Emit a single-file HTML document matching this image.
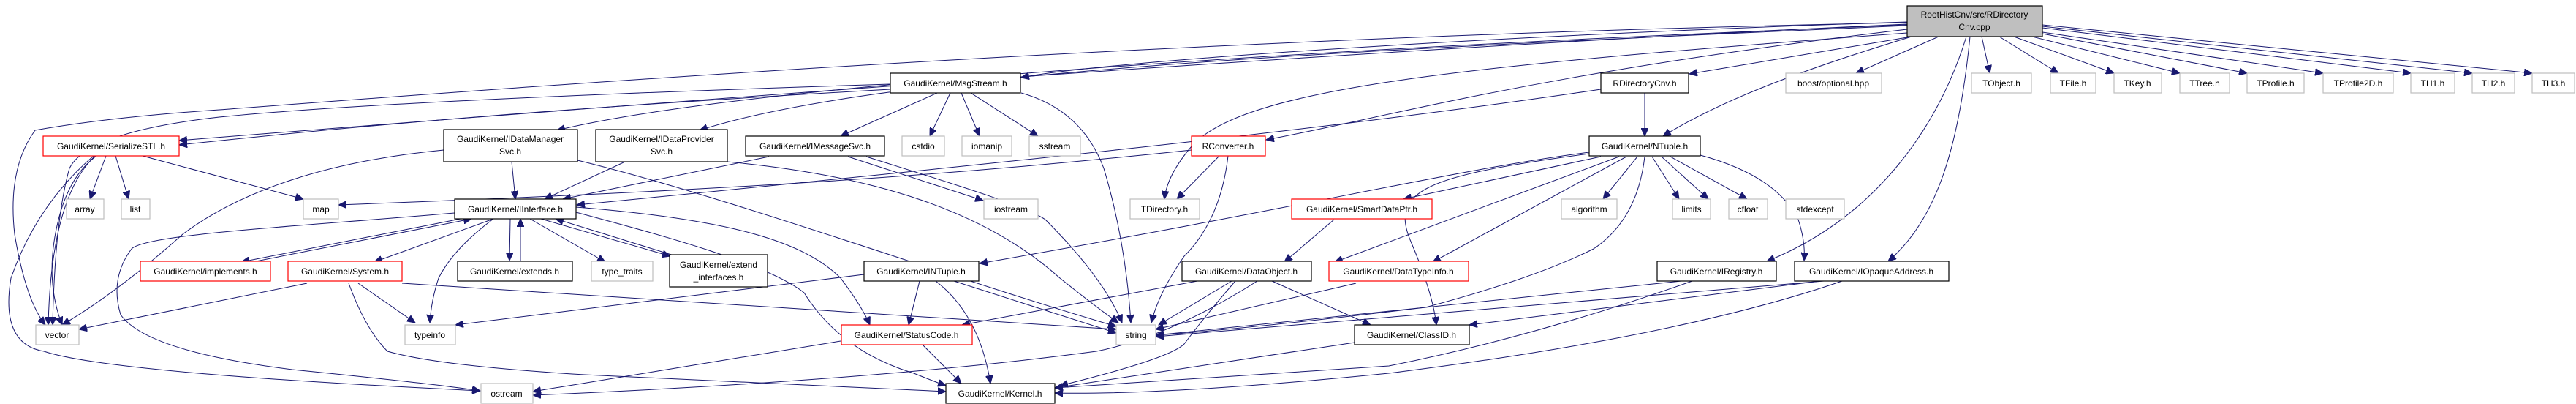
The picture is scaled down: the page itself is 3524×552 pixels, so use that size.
<!DOCTYPE html>
<html><head><meta charset="utf-8"><style>
html,body{margin:0;padding:0;background:#fff;}
svg{display:block;}
text{font-family:"Liberation Sans",Arial,sans-serif;font-size:12px;fill:#000;}
.n{fill:#fff;stroke:#000;stroke-width:1.2;}
.r{fill:#fff;stroke:#f00;stroke-width:1.2;}
.g{fill:#fff;stroke:#bfbfbf;stroke-width:1.2;}
.e{fill:none;stroke:#191970;stroke-width:1;marker-end:url(#a);}
</style></head><body>
<svg width="3524" height="552" viewBox="0 0 3524 552" xmlns="http://www.w3.org/2000/svg">
<defs><marker id="a" markerUnits="userSpaceOnUse" markerWidth="12" markerHeight="10" refX="11" refY="5" orient="auto"><path d="M0,0 L11,5 L0,10 z" fill="#191970" stroke="#191970"/></marker></defs>

<g>
<path class="e" d="M2609,30 C2000,50 1500,85 1397,106"/>
<path class="e" d="M2609,33 C1800,70 900,140 245,192"/>
<path class="e" d="M2609,31 C1600,50 700,120 300,150 Q150,160 48,178 Q10,230 20,320 Q35,410 62,444"/>
<path class="e" d="M2609,34 C1700,70 1000,120 762,178"/>
<path class="e" d="M2609,35 C1800,70 1200,100 957,178"/>
<path class="e" d="M2609,45 C2000,90 1700,120 1630,200 Q1596,240 1593,272"/>
<path class="e" d="M2609,40 C2100,100 1900,160 1732,191"/>
<path class="e" d="M2615,50 L2311,101"/>
<path class="e" d="M2615,50 C2450,100 2350,140 2275,186"/>
<path class="e" d="M2652,50 L2539,100"/>
<path class="e" d="M2690,50 C2650,180 2560,300 2417,357"/>
<path class="e" d="M2695,50 C2680,200 2650,300 2583,357"/>
<path class="e" d="M2711,50 L2722,100"/>
<path class="e" d="M2735,50 L2816,100"/>
<path class="e" d="M2755,50 L2892,100"/>
<path class="e" d="M2780,50 L2982,100"/>
<path class="e" d="M2794,46 L3074,100"/>
<path class="e" d="M2794,44 L3178,100"/>
<path class="e" d="M2794,38 L3298,100"/>
<path class="e" d="M2794,36 L3382,100"/>
<path class="e" d="M2794,34 L3464,100"/>
</g>
<g>
<path class="e" d="M1218,115 C900,125 500,140 300,160 Q120,180 95,230 Q75,300 72,444"/>
<path class="e" d="M1218,122 C900,140 600,160 245,198"/>
<path class="e" d="M1282,127 L1150,186"/>
<path class="e" d="M1300,127 L1272,186"/>
<path class="e" d="M1315,127 L1340,186"/>
<path class="e" d="M1328,127 L1420,186"/>
<path class="e" d="M1397,127 Q1480,150 1510,230 Q1540,330 1547,441"/>
</g>
<g>
<path class="e" d="M607,205 C450,220 330,260 250,320 Q160,400 85,444"/>
<path class="e" d="M700,221 L705,272"/>
<path class="e" d="M790,219 C1000,270 1300,380 1527,446"/>
<path class="e" d="M855,221 L745,272"/>
<path class="e" d="M995,221 C1200,240 1350,290 1450,380 Q1500,420 1530,441"/>
<path class="e" d="M1052,214 L770,272"/>
<path class="e" d="M1160,214 L1345,274"/>
<path class="e" d="M1185,214 C1300,250 1400,280 1430,300 Q1510,380 1535,441"/>
</g>
<g>
<path class="e" d="M145,213 L123,272"/>
<path class="e" d="M158,213 L176,272"/>
<path class="e" d="M195,213 L415,272"/>
<path class="e" d="M130,213 Q70,270 66,444"/>
<path class="e" d="M132,213 Q95,240 80,300 Q60,380 85,444"/>
<path class="e" d="M128,213 Q50,280 15,380 Q0,470 60,480 Q150,510 657,534"/>
</g>
<g>
<path class="e" d="M622,291 C400,310 200,320 180,340 Q150,380 165,430 Q200,480 400,505 Q600,525 657,534"/>
<path class="e" d="M630,299 L330,358"/>
<path class="e" d="M345,358 L645,299"/>
<path class="e" d="M675,299 L512,358"/>
<path class="e" d="M675,299 Q620,340 600,380 Q590,410 588,441"/>
<path class="e" d="M698,299 L697,356"/>
<path class="e" d="M712,356 L712,299"/>
<path class="e" d="M725,299 L828,358"/>
<path class="e" d="M740,299 L917,350"/>
<path class="e" d="M925,350 L760,299"/>
<path class="e" d="M788,283 C1000,300 1100,330 1150,380 Q1180,420 1190,444"/>
<path class="e" d="M788,290 C900,320 1050,360 1100,400 Q1150,480 1250,510 Q1280,522 1294,527"/>
</g>
<g>
<path class="e" d="M420,387 L108,450"/>
<path class="e" d="M490,387 L568,441"/>
<path class="e" d="M477,387 Q500,450 530,480 Q600,500 800,512 Q1100,525 1294,535"/>
<path class="e" d="M550,387 L1527,450"/>
</g>
<g>
<path class="e" d="M1182,375 L623,444"/>
<path class="e" d="M1258,384 L1243,444"/>
<path class="e" d="M1280,384 Q1340,430 1355,524"/>
<path class="e" d="M1305,384 L1527,455"/>
<path class="e" d="M1150,466 L729,535"/>
<path class="e" d="M1262,471 L1315,524"/>
<path class="e" d="M1638,384 L1316,444"/>
<path class="e" d="M1685,384 L1585,444"/>
<path class="e" d="M1690,384 Q1650,430 1620,470 Q1600,490 1450,527"/>
<path class="e" d="M1740,384 L1875,444"/>
<path class="e" d="M1720,384 Q1600,460 1500,480 Q1200,520 729,540"/>
</g>
<g>
<path class="e" d="M2174,208 C2000,230 1800,280 1340,360"/>
<path class="e" d="M2190,214 L1920,272"/>
<path class="e" d="M2215,214 L1826,358"/>
<path class="e" d="M2225,214 L1960,358"/>
<path class="e" d="M2240,214 L2193,272"/>
<path class="e" d="M2260,214 L2297,272"/>
<path class="e" d="M2273,214 L2337,272"/>
<path class="e" d="M2285,214 L2390,272"/>
<path class="e" d="M2326,212 Q2430,240 2460,300 Q2470,330 2468,356"/>
<path class="e" d="M2250,214 Q2240,300 2180,340 Q2100,380 1950,420 Q1700,450 1581,458"/>
<path class="e" d="M2174,210 C1950,240 1900,260 1930,330 Q1960,400 1965,444"/>
<path class="e" d="M1825,300 L1757,358"/>
<path class="e" d="M1855,387 L1581,450"/>
</g>
<g>
<path class="e" d="M1630,205 C1300,240 1000,260 463,280"/>
<path class="e" d="M1668,213 L1610,272"/>
<path class="e" d="M1680,213 Q1670,300 1620,350 Q1585,400 1575,441"/>
<path class="e" d="M2250,127 L2250,186"/>
<path class="e" d="M2190,122 C1800,180 1300,230 789,280"/>
</g>
<g>
<path class="e" d="M2300,384 L1581,458"/>
<path class="e" d="M2315,384 Q2100,460 1900,500 Q1600,520 1443,530"/>
<path class="e" d="M2495,384 L1581,460"/>
<path class="e" d="M2490,384 L2010,444"/>
<path class="e" d="M2520,384 Q2300,460 1900,510 Q1600,540 1443,537"/>
<path class="e" d="M1853,468 L1443,530"/>
</g>

<rect x="2609" y="8" width="185" height="42" fill="#bfbfbf" stroke="#000" stroke-width="1.2"/>
<text x="2701" y="24" text-anchor="middle">RootHistCnv/src/RDirectory</text>
<text x="2701" y="41" text-anchor="middle">Cnv.cpp</text>

<rect class="n" x="1218" y="100" width="178" height="27"/><text x="1307" y="118" text-anchor="middle">GaudiKernel/MsgStream.h</text>
<rect class="n" x="2190" y="100" width="120" height="27"/><text x="2250" y="118" text-anchor="middle">RDirectoryCnv.h</text>
<rect class="g" x="2443" y="100" width="131" height="27"/><text x="2508" y="118" text-anchor="middle">boost/optional.hpp</text>
<rect class="g" x="2697" y="100" width="82" height="27"/><text x="2738" y="118" text-anchor="middle">TObject.h</text>
<rect class="g" x="2805" y="100" width="62" height="27"/><text x="2836" y="118" text-anchor="middle">TFile.h</text>
<rect class="g" x="2892" y="100" width="65" height="27"/><text x="2924" y="118" text-anchor="middle">TKey.h</text>
<rect class="g" x="2982" y="100" width="68" height="27"/><text x="3016" y="118" text-anchor="middle">TTree.h</text>
<rect class="g" x="3074" y="100" width="78" height="27"/><text x="3113" y="118" text-anchor="middle">TProfile.h</text>
<rect class="g" x="3178" y="100" width="96" height="27"/><text x="3226" y="118" text-anchor="middle">TProfile2D.h</text>
<rect class="g" x="3298" y="100" width="60" height="27"/><text x="3328" y="118" text-anchor="middle">TH1.h</text>
<rect class="g" x="3382" y="100" width="58" height="27"/><text x="3411" y="118" text-anchor="middle">TH2.h</text>
<rect class="g" x="3464" y="100" width="58" height="27"/><text x="3493" y="118" text-anchor="middle">TH3.h</text>

<rect class="r" x="59" y="186" width="186" height="27"/><text x="152" y="204" text-anchor="middle">GaudiKernel/SerializeSTL.h</text>
<rect class="n" x="607" y="177" width="183" height="44"/><text x="698" y="194" text-anchor="middle">GaudiKernel/IDataManager</text><text x="698" y="211" text-anchor="middle">Svc.h</text>
<rect class="n" x="815" y="177" width="180" height="44"/><text x="905" y="194" text-anchor="middle">GaudiKernel/IDataProvider</text><text x="905" y="211" text-anchor="middle">Svc.h</text>
<rect class="n" x="1020" y="186" width="190" height="27"/><text x="1115" y="204" text-anchor="middle">GaudiKernel/IMessageSvc.h</text>
<rect class="g" x="1234" y="186" width="58" height="27"/><text x="1263" y="204" text-anchor="middle">cstdio</text>
<rect class="g" x="1316" y="186" width="68" height="27"/><text x="1350" y="204" text-anchor="middle">iomanip</text>
<rect class="g" x="1408" y="186" width="70" height="27"/><text x="1443" y="204" text-anchor="middle">sstream</text>
<rect class="r" x="1630" y="186" width="101" height="27"/><text x="1680" y="204" text-anchor="middle">RConverter.h</text>
<rect class="n" x="2174" y="186" width="152" height="27"/><text x="2250" y="204" text-anchor="middle">GaudiKernel/NTuple.h</text>

<rect class="g" x="91" y="272" width="51" height="27"/><text x="116" y="290" text-anchor="middle">array</text>
<rect class="g" x="166" y="272" width="39" height="27"/><text x="185" y="290" text-anchor="middle">list</text>
<rect class="g" x="415" y="272" width="48" height="27"/><text x="439" y="290" text-anchor="middle">map</text>
<rect class="n" x="622" y="272" width="166" height="27"/><text x="705" y="290" text-anchor="middle">GaudiKernel/IInterface.h</text>
<rect class="g" x="1346" y="272" width="74" height="27"/><text x="1383" y="290" text-anchor="middle">iostream</text>
<rect class="g" x="1546" y="272" width="95" height="27"/><text x="1593" y="290" text-anchor="middle">TDirectory.h</text>
<rect class="r" x="1767" y="272" width="192" height="27"/><text x="1863" y="290" text-anchor="middle">GaudiKernel/SmartDataPtr.h</text>
<rect class="g" x="2136" y="272" width="76" height="27"/><text x="2174" y="290" text-anchor="middle">algorithm</text>
<rect class="g" x="2288" y="272" width="52" height="27"/><text x="2314" y="290" text-anchor="middle">limits</text>
<rect class="g" x="2365" y="272" width="53" height="27"/><text x="2391" y="290" text-anchor="middle">cfloat</text>
<rect class="g" x="2443" y="272" width="80" height="27"/><text x="2483" y="290" text-anchor="middle">stdexcept</text>

<rect class="r" x="192" y="357" width="178" height="27"/><text x="281" y="375" text-anchor="middle">GaudiKernel/implements.h</text>
<rect class="r" x="394" y="357" width="156" height="27"/><text x="472" y="375" text-anchor="middle">GaudiKernel/System.h</text>
<rect class="n" x="626" y="357" width="157" height="27"/><text x="704" y="375" text-anchor="middle">GaudiKernel/extends.h</text>
<rect class="g" x="809" y="357" width="84" height="27"/><text x="851" y="375" text-anchor="middle">type_traits</text>
<rect class="n" x="916" y="348" width="134" height="44"/><text x="983" y="366" text-anchor="middle">GaudiKernel/extend</text><text x="983" y="383" text-anchor="middle">_interfaces.h</text>
<rect class="n" x="1182" y="357" width="157" height="27"/><text x="1260" y="375" text-anchor="middle">GaudiKernel/INTuple.h</text>
<rect class="n" x="1617" y="357" width="177" height="27"/><text x="1705" y="375" text-anchor="middle">GaudiKernel/DataObject.h</text>
<rect class="r" x="1818" y="357" width="191" height="27"/><text x="1913" y="375" text-anchor="middle">GaudiKernel/DataTypeInfo.h</text>
<rect class="n" x="2267" y="357" width="163" height="27"/><text x="2348" y="375" text-anchor="middle">GaudiKernel/IRegistry.h</text>
<rect class="n" x="2455" y="357" width="211" height="27"/><text x="2560" y="375" text-anchor="middle">GaudiKernel/IOpaqueAddress.h</text>

<rect class="g" x="49" y="444" width="59" height="27"/><text x="78" y="462" text-anchor="middle">vector</text>
<rect class="g" x="554" y="444" width="69" height="27"/><text x="588" y="462" text-anchor="middle">typeinfo</text>
<rect class="r" x="1151" y="444" width="179" height="27"/><text x="1240" y="462" text-anchor="middle">GaudiKernel/StatusCode.h</text>
<rect class="g" x="1527" y="444" width="54" height="27"/><text x="1554" y="462" text-anchor="middle">string</text>
<rect class="n" x="1853" y="444" width="157" height="27"/><text x="1931" y="462" text-anchor="middle">GaudiKernel/ClassID.h</text>

<rect class="g" x="658" y="524" width="71" height="27"/><text x="693" y="542" text-anchor="middle">ostream</text>
<rect class="n" x="1294" y="524" width="149" height="27"/><text x="1368" y="542" text-anchor="middle">GaudiKernel/Kernel.h</text>
</svg>
</body></html>
